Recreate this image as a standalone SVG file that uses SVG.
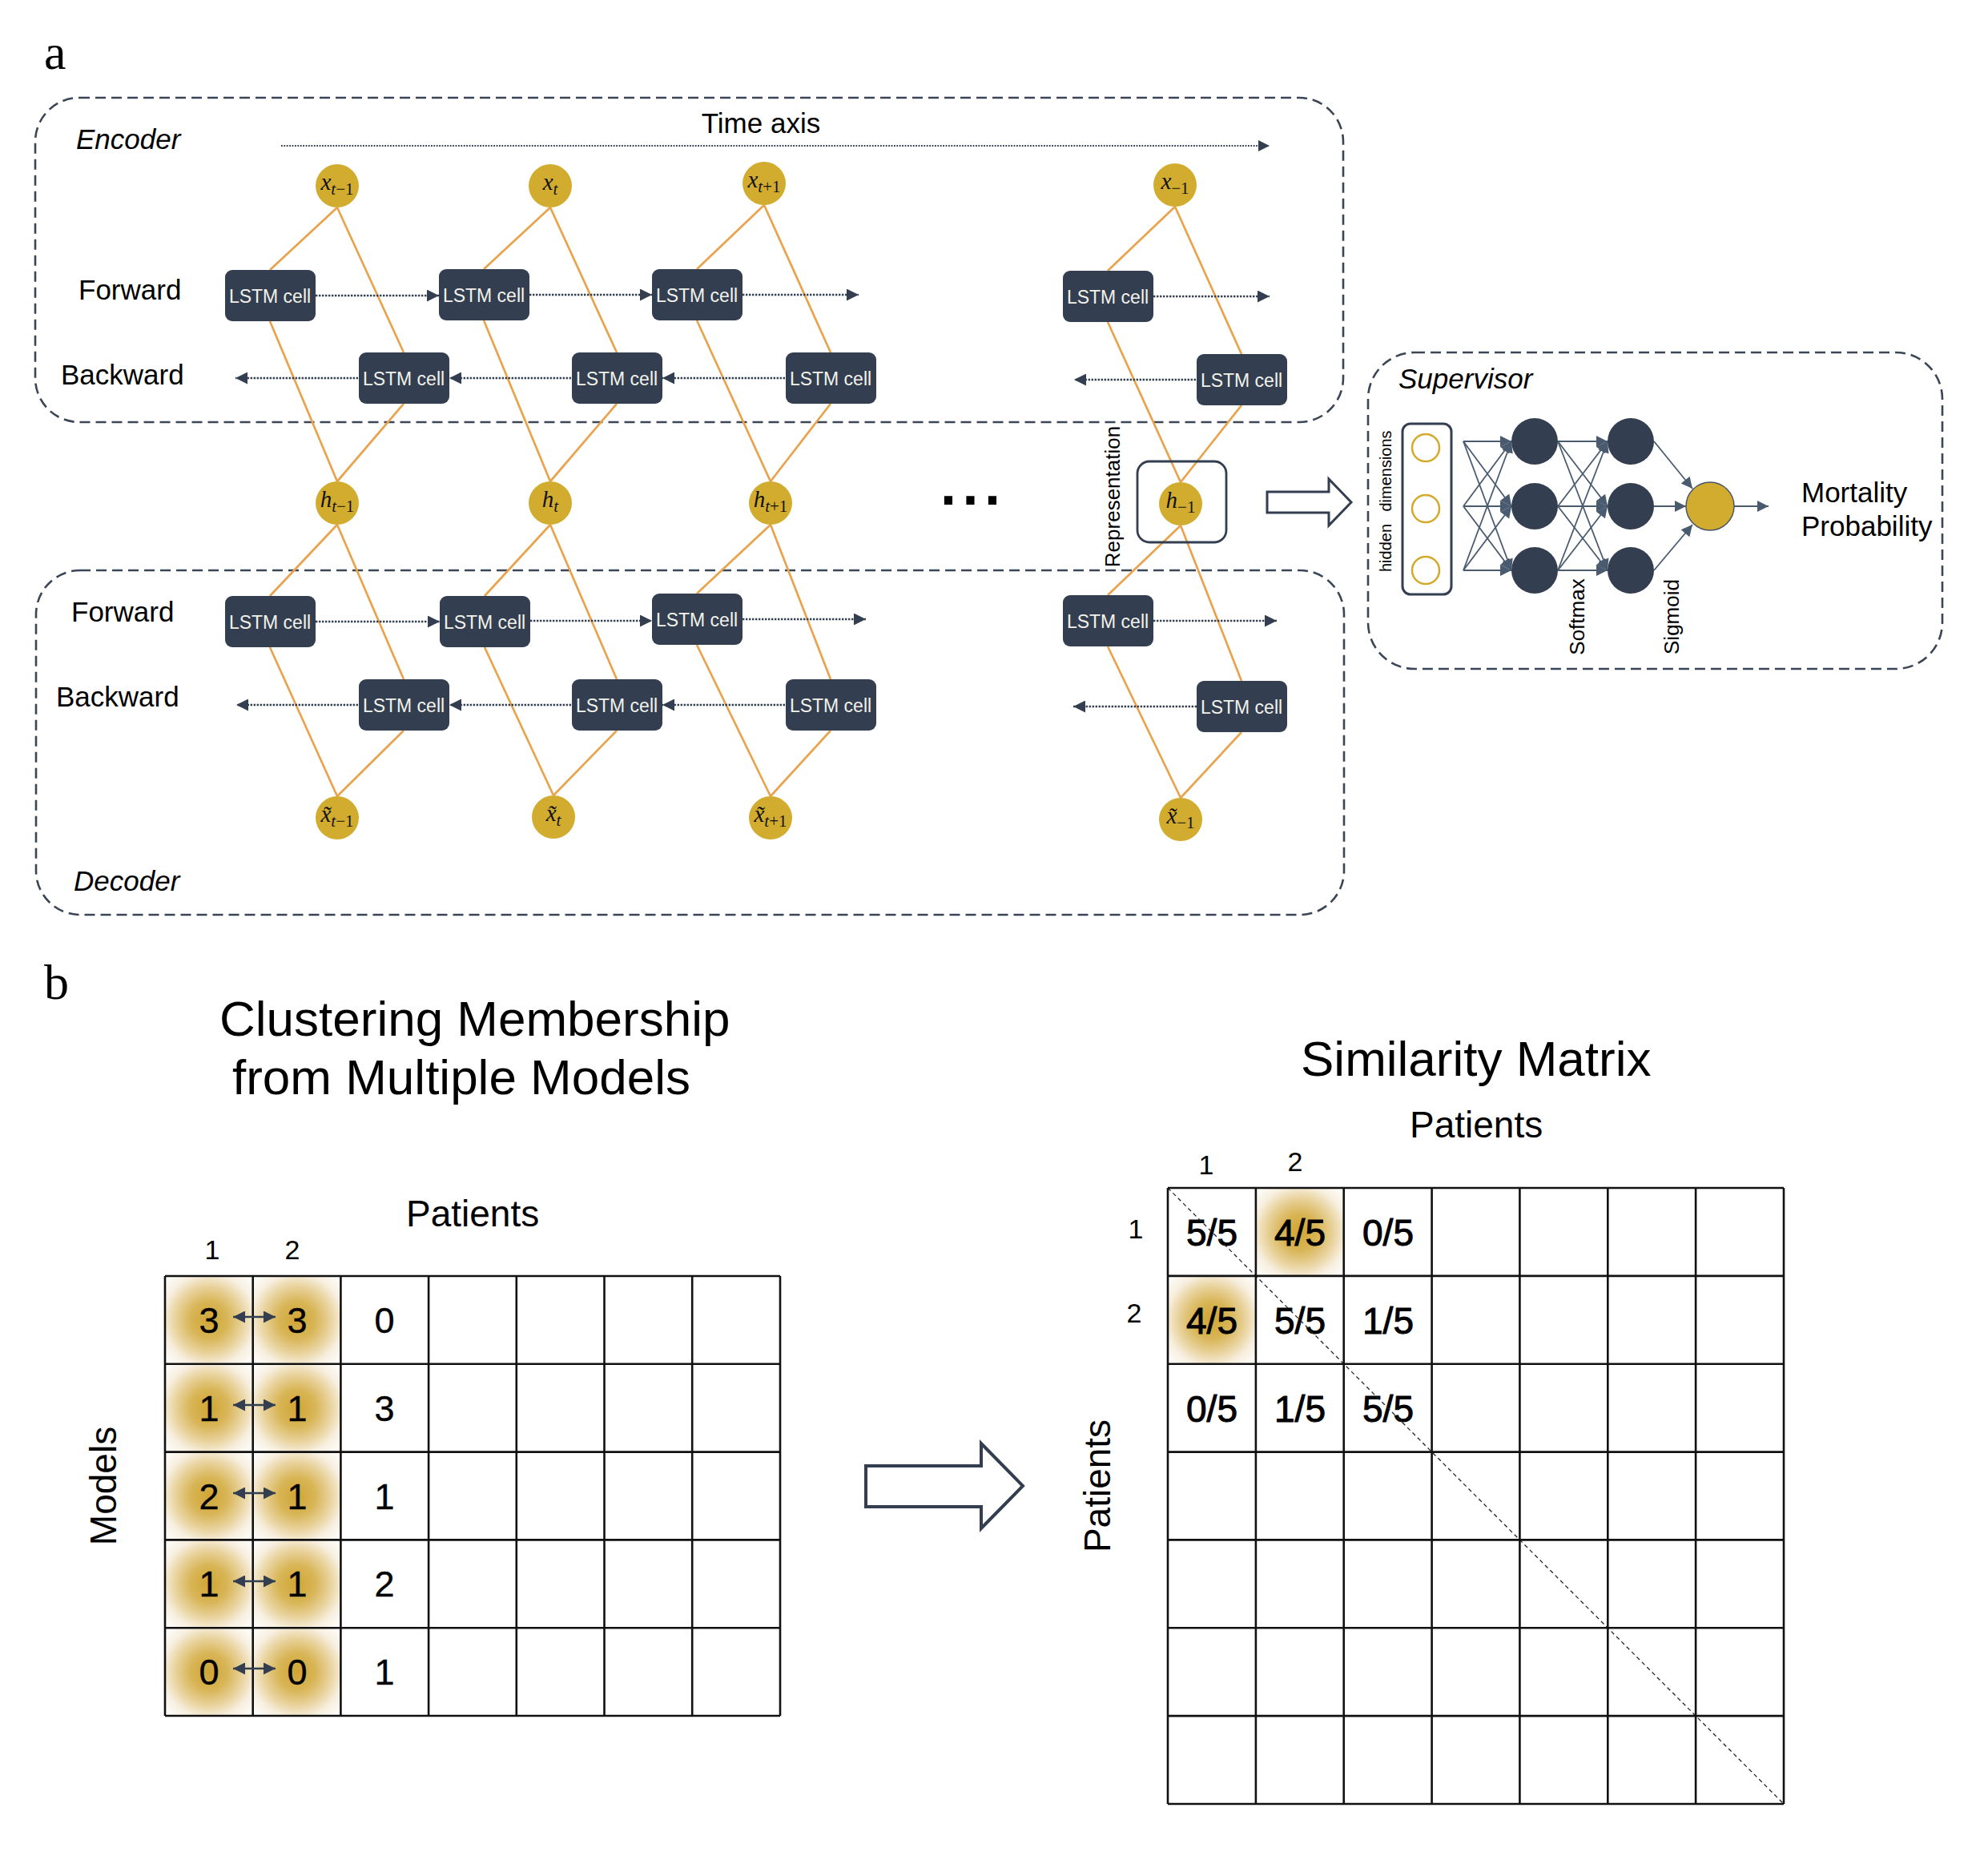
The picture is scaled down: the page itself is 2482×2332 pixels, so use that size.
<svg xmlns="http://www.w3.org/2000/svg" width="2482" height="2332" viewBox="0 0 2482 2332">
<style>
text{font-family:"Liberation Sans",Arial,sans-serif;fill:#000}
.serif{font-family:"Liberation Serif","Times New Roman",serif}
.it{font-style:italic}
.lab{font-size:35px}
.cellr{fill:#333F50}
.cellt{fill:#F2F1EA;font-size:23px;text-anchor:middle}
.node{fill:#D2AC2F}
.m{font-family:"Liberation Serif","Times New Roman",serif;font-style:italic;font-size:29px;text-anchor:middle;fill:#111}
.s{font-size:21px}
.up{font-style:normal}
.or{stroke:#E9A34C;stroke-width:2.7;fill:none}
.dt{stroke:#333F50;stroke-width:2.5;stroke-dasharray:2.4 1.6;fill:none;marker-end:url(#tri)}
.box{fill:none;stroke:#3A4556;stroke-width:2.6;stroke-dasharray:13 7}
.nn{stroke:#4A5B70;stroke-width:1.8;fill:none;marker-end:url(#triS)}
.grid{stroke:#111;stroke-width:2.6;fill:none}
.v{font-size:45px;text-anchor:middle;stroke:#000;stroke-width:0.4}
.f{font-size:46px;text-anchor:middle;stroke:#000;stroke-width:1}
.hol{fill:#fff;stroke:#333F50;stroke-linejoin:miter}
</style>
<defs>
<marker id="tri" viewBox="0 0 10 10" refX="10" refY="5" markerWidth="15" markerHeight="15" markerUnits="userSpaceOnUse" orient="auto"><path d="M0,0L10,5L0,10z" fill="#333F50"/></marker>
<marker id="triT" viewBox="0 0 10 10" refX="10" refY="5" markerWidth="14" markerHeight="14" markerUnits="userSpaceOnUse" orient="auto"><path d="M0,0L10,5L0,10z" fill="#333F50"/></marker>
<marker id="triS" viewBox="0 0 10 10" refX="10" refY="5" markerWidth="16" markerHeight="14" markerUnits="userSpaceOnUse" orient="auto"><path d="M0,0L10,5L0,10z" fill="#4A5B70"/></marker>
<marker id="dbl" viewBox="0 0 10 10" refX="10" refY="5" markerWidth="15" markerHeight="15" markerUnits="userSpaceOnUse" orient="auto-start-reverse"><path d="M0,0L10,5L0,10z" fill="#333F50"/></marker>
<radialGradient id="glow" cx="0.5" cy="0.5" r="0.7">
<stop offset="0" stop-color="#D0A535"/>
<stop offset="0.3" stop-color="#D8B556"/>
<stop offset="0.55" stop-color="#E9D39E"/>
<stop offset="0.75" stop-color="#F7EFE0"/>
<stop offset="1" stop-color="#FFFFFF"/>
</radialGradient>
</defs>
<rect width="2482" height="2332" fill="#fff"/>

<!-- panel labels -->
<text class="serif" x="55" y="86" font-size="62">a</text>
<text class="serif" x="55" y="1247" font-size="62">b</text>

<!-- group boxes -->
<g id="encoder-box">
<rect class="box" x="44" y="122" width="1633" height="405" rx="55"/>
<text class="lab it" x="95" y="186">Encoder</text>
<text class="lab" x="950" y="166" text-anchor="middle">Time axis</text>
<text class="lab" x="98" y="374">Forward</text>
<text class="lab" x="76" y="480">Backward</text>
</g>
<g id="decoder-box">
<rect class="box" x="45" y="712" width="1633" height="430" rx="55"/>
<text class="lab" x="89" y="776">Forward</text>
<text class="lab" x="70" y="882">Backward</text>
<text class="lab it" x="92" y="1112">Decoder</text>
</g>
<g id="supervisor-box">
<rect class="box" x="1708" y="440" width="717" height="395" rx="58"/>
<text class="lab it" x="1746" y="485">Supervisor</text>
</g>

<!-- connectors -->
<g id="connectors">
<line x1="351" y1="182" x2="1585" y2="182" stroke="#333F50" stroke-width="1.8" stroke-dasharray="1.8 1.6" marker-end="url(#triT)"/>
<!-- encoder orange -->
<path class="or" d="M421,259L337,337M421,259L504,440M337,401L421,601M504,504L421,601"/>
<path class="or" d="M687,259L604,336M687,259L770,440M604,400L687,601M770,504L687,601"/>
<path class="or" d="M954,256L870,336M954,256L1037,440M870,400L962,601M1037,504L962,601"/>
<path class="or" d="M1467,258L1383,338M1467,258L1550,442M1383,402L1474,602M1550,506L1474,602"/>
<!-- decoder orange -->
<path class="or" d="M421,655L337,744M421,655L504,848M337,808L421,994M504,912L421,994"/>
<path class="or" d="M687,655L605,744M687,655L770,848M605,808L691,993M770,912L691,993"/>
<path class="or" d="M962,655L870,741M962,655L1037,848M870,805L962,994M1037,912L962,994"/>
<path class="or" d="M1474,656L1383,743M1474,656L1550,850M1383,807L1474,996M1550,914L1474,996"/>
<!-- encoder dotted arrows -->
<line class="dt" x1="394" y1="369" x2="548" y2="369"/>
<line class="dt" x1="661" y1="368" x2="814" y2="368"/>
<line class="dt" x1="927" y1="368" x2="1072" y2="368"/>
<line class="dt" x1="1440" y1="370" x2="1585" y2="370"/>
<line class="dt" x1="447" y1="472" x2="294" y2="472"/>
<line class="dt" x1="713" y1="472" x2="561" y2="472"/>
<line class="dt" x1="980" y1="472" x2="827" y2="472"/>
<line class="dt" x1="1493" y1="474" x2="1341" y2="474"/>
<!-- decoder dotted arrows -->
<line class="dt" x1="394" y1="776" x2="549" y2="776"/>
<line class="dt" x1="662" y1="775" x2="814" y2="775"/>
<line class="dt" x1="927" y1="773" x2="1081" y2="773"/>
<line class="dt" x1="1440" y1="775" x2="1594" y2="775"/>
<line class="dt" x1="447" y1="880" x2="295" y2="880"/>
<line class="dt" x1="713" y1="880" x2="561" y2="880"/>
<line class="dt" x1="980" y1="880" x2="827" y2="880"/>
<line class="dt" x1="1494" y1="882" x2="1340" y2="882"/>
<!-- hollow arrow to supervisor -->
<polygon class="hol" stroke-width="3" points="1582,614 1659,614 1659,598 1687,627 1659,656 1659,640 1582,640"/>
<!-- supervisor network -->
<path class="nn" d="M1827,551L1887,551"/><path class="nn" d="M1827,551L1887,632"/><path class="nn" d="M1827,551L1887,712"/>
<path class="nn" d="M1827,632L1887,551"/><path class="nn" d="M1827,632L1887,632"/><path class="nn" d="M1827,632L1887,712"/>
<path class="nn" d="M1827,712L1887,551"/><path class="nn" d="M1827,712L1887,632"/><path class="nn" d="M1827,712L1887,712"/>
<path class="nn" d="M1945,551L2007,551"/><path class="nn" d="M1945,551L2007,632"/><path class="nn" d="M1945,551L2007,712"/>
<path class="nn" d="M1945,632L2007,551"/><path class="nn" d="M1945,632L2007,632"/><path class="nn" d="M1945,632L2007,712"/>
<path class="nn" d="M1945,712L2007,551"/><path class="nn" d="M1945,712L2007,632"/><path class="nn" d="M1945,712L2007,712"/>
<path class="nn" d="M2065,551L2113,610"/><path class="nn" d="M2065,632L2105,632"/><path class="nn" d="M2065,712L2113,655"/>
<path class="nn" d="M2165,632L2208,632"/>
<!-- big hollow arrow part b -->
<polygon class="hol" stroke-width="4" points="1081,1830 1225,1830 1225,1802 1277,1855 1225,1908 1225,1881 1081,1881"/>
</g>

<!-- encoder inputs -->
<g id="x-tm1"><circle class="node" cx="421" cy="232" r="27"/><text class="m" x="421" y="237">x<tspan class="s" dy="6">t<tspan class="up">−1</tspan></tspan></text></g>
<g id="x-t"><circle class="node" cx="687" cy="232" r="27"/><text class="m" x="687" y="237">x<tspan class="s" dy="6">t</tspan></text></g>
<g id="x-tp1"><circle class="node" cx="954" cy="229" r="27"/><text class="m" x="954" y="234">x<tspan class="s" dy="6">t<tspan class="up">+1</tspan></tspan></text></g>
<g id="x-last"><circle class="node" cx="1467" cy="231" r="27"/><text class="m" x="1467" y="236">x<tspan class="s up" dy="6">−1</tspan></text></g>

<!-- encoder cells -->
<g id="enc-f1"><rect class="cellr" x="281" y="337" width="113" height="64" rx="9"/><text class="cellt" x="337" y="378">LSTM cell</text></g>
<g id="enc-f2"><rect class="cellr" x="548" y="336" width="113" height="64" rx="9"/><text class="cellt" x="604" y="377">LSTM cell</text></g>
<g id="enc-f3"><rect class="cellr" x="814" y="336" width="113" height="64" rx="9"/><text class="cellt" x="870" y="377">LSTM cell</text></g>
<g id="enc-f4"><rect class="cellr" x="1327" y="338" width="113" height="64" rx="9"/><text class="cellt" x="1383" y="379">LSTM cell</text></g>
<g id="enc-b1"><rect class="cellr" x="448" y="440" width="113" height="64" rx="9"/><text class="cellt" x="504" y="481">LSTM cell</text></g>
<g id="enc-b2"><rect class="cellr" x="714" y="440" width="113" height="64" rx="9"/><text class="cellt" x="770" y="481">LSTM cell</text></g>
<g id="enc-b3"><rect class="cellr" x="981" y="440" width="113" height="64" rx="9"/><text class="cellt" x="1037" y="481">LSTM cell</text></g>
<g id="enc-b4"><rect class="cellr" x="1494" y="442" width="113" height="64" rx="9"/><text class="cellt" x="1550" y="483">LSTM cell</text></g>

<!-- hidden states -->
<g id="h-tm1"><circle class="node" cx="421" cy="628" r="27"/><text class="m" x="421" y="633">h<tspan class="s" dy="6">t<tspan class="up">−1</tspan></tspan></text></g>
<g id="h-t"><circle class="node" cx="687" cy="628" r="27"/><text class="m" x="687" y="633">h<tspan class="s" dy="6">t</tspan></text></g>
<g id="h-tp1"><circle class="node" cx="962" cy="628" r="27"/><text class="m" x="962" y="633">h<tspan class="s" dy="6">t<tspan class="up">+1</tspan></tspan></text></g>
<g id="ellipsis"><text x="1174" y="630" font-size="72" font-weight="bold" letter-spacing="7.5">...</text></g>
<g id="representation">
<rect x="1420" y="576" width="111" height="101" rx="15" fill="none" stroke="#333F50" stroke-width="2.8"/>
<circle class="node" cx="1474" cy="629" r="27"/><text class="m" x="1474" y="634">h<tspan class="s up" dy="6">−1</tspan></text>
<text x="1398" y="620" font-size="26" text-anchor="middle" transform="rotate(-90 1398 620)">Representation</text>
</g>

<!-- decoder cells -->
<g id="dec-f1"><rect class="cellr" x="281" y="744" width="113" height="64" rx="9"/><text class="cellt" x="337" y="785">LSTM cell</text></g>
<g id="dec-f2"><rect class="cellr" x="549" y="744" width="113" height="64" rx="9"/><text class="cellt" x="605" y="785">LSTM cell</text></g>
<g id="dec-f3"><rect class="cellr" x="814" y="741" width="113" height="64" rx="9"/><text class="cellt" x="870" y="782">LSTM cell</text></g>
<g id="dec-f4"><rect class="cellr" x="1327" y="743" width="113" height="64" rx="9"/><text class="cellt" x="1383" y="784">LSTM cell</text></g>
<g id="dec-b1"><rect class="cellr" x="448" y="848" width="113" height="64" rx="9"/><text class="cellt" x="504" y="889">LSTM cell</text></g>
<g id="dec-b2"><rect class="cellr" x="714" y="848" width="113" height="64" rx="9"/><text class="cellt" x="770" y="889">LSTM cell</text></g>
<g id="dec-b3"><rect class="cellr" x="981" y="848" width="113" height="64" rx="9"/><text class="cellt" x="1037" y="889">LSTM cell</text></g>
<g id="dec-b4"><rect class="cellr" x="1494" y="850" width="113" height="64" rx="9"/><text class="cellt" x="1550" y="891">LSTM cell</text></g>

<!-- decoder outputs -->
<g id="xr-tm1"><circle class="node" cx="421" cy="1021" r="27"/><text class="m" x="421" y="1026">x̃<tspan class="s" dy="6">t<tspan class="up">−1</tspan></tspan></text></g>
<g id="xr-t"><circle class="node" cx="691" cy="1020" r="27"/><text class="m" x="691" y="1025">x̃<tspan class="s" dy="6">t</tspan></text></g>
<g id="xr-tp1"><circle class="node" cx="962" cy="1021" r="27"/><text class="m" x="962" y="1026">x̃<tspan class="s" dy="6">t<tspan class="up">+1</tspan></tspan></text></g>
<g id="xr-last"><circle class="node" cx="1474" cy="1023" r="27"/><text class="m" x="1474" y="1028">x̃<tspan class="s up" dy="6">−1</tspan></text></g>

<!-- supervisor -->
<g id="hidden-dims">
<rect x="1751" y="529" width="61" height="213" rx="10" fill="none" stroke="#333F50" stroke-width="3"/>
<circle cx="1780" cy="559" r="17" fill="none" stroke="#D4AA2C" stroke-width="2.5"/>
<circle cx="1780" cy="635" r="17" fill="none" stroke="#D4AA2C" stroke-width="2.5"/>
<circle cx="1780" cy="712" r="17" fill="none" stroke="#D4AA2C" stroke-width="2.5"/>
<text x="1737" y="684" font-size="20" text-anchor="middle" transform="rotate(-90 1737 684)">hidden</text>
<text x="1737" y="588" font-size="20" text-anchor="middle" transform="rotate(-90 1737 588)">dimensions</text>
</g>
<g id="layer1" fill="#333F50"><circle cx="1916" cy="551" r="29"/><circle cx="1916" cy="632" r="29"/><circle cx="1916" cy="712" r="29"/></g>
<g id="layer2" fill="#333F50"><circle cx="2036" cy="551" r="29"/><circle cx="2036" cy="632" r="29"/><circle cx="2036" cy="712" r="29"/></g>
<g id="output"><circle cx="2135" cy="632" r="30" fill="#D2AC2F" stroke="#4A5568" stroke-width="1.5"/></g>
<g id="sup-labels">
<text x="1978" y="770" font-size="26" text-anchor="middle" transform="rotate(-90 1978 770)">Softmax</text>
<text x="2096" y="770" font-size="26" text-anchor="middle" transform="rotate(-90 2096 770)">Sigmoid</text>
<text class="lab" x="2249" y="627">Mortality</text>
<text class="lab" x="2249" y="669">Probability</text>
</g>

<!-- part b left -->
<g id="membership">
<text x="274" y="1293" font-size="62">Clustering Membership</text>
<text x="290" y="1366" font-size="62">from Multiple Models</text>
<text x="507" y="1531" font-size="46">Patients</text>
<text x="265" y="1572" font-size="34" text-anchor="middle">1</text>
<text x="365" y="1572" font-size="34" text-anchor="middle">2</text>
<text x="145" y="1855" font-size="46" text-anchor="middle" transform="rotate(-90 145 1855)">Models</text>
<g fill="url(#glow)">
<rect x="206" y="1593" width="109.7" height="109.8"/><rect x="315.7" y="1593" width="109.7" height="109.8"/>
<rect x="206" y="1702.8" width="109.7" height="109.8"/><rect x="315.7" y="1702.8" width="109.7" height="109.8"/>
<rect x="206" y="1812.6" width="109.7" height="109.8"/><rect x="315.7" y="1812.6" width="109.7" height="109.8"/>
<rect x="206" y="1922.4" width="109.7" height="109.8"/><rect x="315.7" y="1922.4" width="109.7" height="109.8"/>
<rect x="206" y="2032.2" width="109.7" height="109.8"/><rect x="315.7" y="2032.2" width="109.7" height="109.8"/>
</g>
<path class="grid" d="M206,1593H974M206,1702.8H974M206,1812.6H974M206,1922.4H974M206,2032.2H974M206,2142H974M206,1593V2142M315.7,1593V2142M425.4,1593V2142M535.1,1593V2142M644.8,1593V2142M754.5,1593V2142M864.2,1593V2142M974,1593V2142"/>
<g class="v">
<text x="261" y="1664">3</text><text x="371" y="1664">3</text><text x="480" y="1664">0</text>
<text x="261" y="1774">1</text><text x="371" y="1774">1</text><text x="480" y="1774">3</text>
<text x="261" y="1884">2</text><text x="371" y="1884">1</text><text x="480" y="1884">1</text>
<text x="261" y="1993">1</text><text x="371" y="1993">1</text><text x="480" y="1993">2</text>
<text x="261" y="2103">0</text><text x="371" y="2103">0</text><text x="480" y="2103">1</text>
</g>
<g stroke="#333F50" stroke-width="2.4" marker-start="url(#dbl)" marker-end="url(#dbl)">
<line x1="291" y1="1644" x2="344" y2="1644"/>
<line x1="291" y1="1754" x2="344" y2="1754"/>
<line x1="291" y1="1864" x2="344" y2="1864"/>
<line x1="291" y1="1974" x2="344" y2="1974"/>
<line x1="291" y1="2083" x2="344" y2="2083"/>
</g>
</g>

<!-- part b right -->
<g id="similarity">
<text x="1624" y="1343" font-size="62">Similarity Matrix</text>
<text x="1760" y="1420" font-size="46">Patients</text>
<text x="1506" y="1466" font-size="34" text-anchor="middle">1</text>
<text x="1617" y="1462" font-size="34" text-anchor="middle">2</text>
<text x="1418" y="1546" font-size="34" text-anchor="middle">1</text>
<text x="1416" y="1651" font-size="34" text-anchor="middle">2</text>
<text x="1386" y="1855" font-size="46" text-anchor="middle" transform="rotate(-90 1386 1855)">Patients</text>
<rect x="1567.9" y="1483" width="109.8" height="109.9" fill="url(#glow)"/>
<rect x="1458" y="1592.9" width="109.9" height="109.8" fill="url(#glow)"/>
<g class="f">
<text x="1513" y="1555">5/5</text><text x="1623" y="1555">4/5</text><text x="1733" y="1555">0/5</text>
<text x="1513" y="1665">4/5</text><text x="1623" y="1665">5/5</text><text x="1733" y="1665">1/5</text>
<text x="1513" y="1775">0/5</text><text x="1623" y="1775">1/5</text><text x="1733" y="1775">5/5</text>
</g>
<line x1="1458" y1="1483" x2="2227" y2="2252" stroke="#222" stroke-width="1.3" stroke-dasharray="5 4"/>
<path class="grid" d="M1458,1483H2227M1458,1592.9H2227M1458,1702.7H2227M1458,1812.6H2227M1458,1922.4H2227M1458,2032.3H2227M1458,2142.1H2227M1458,2252H2227M1458,1483V2252M1567.9,1483V2252M1677.7,1483V2252M1787.6,1483V2252M1897.4,1483V2252M2007.3,1483V2252M2117.1,1483V2252M2227,1483V2252"/>
</g>
</svg>
